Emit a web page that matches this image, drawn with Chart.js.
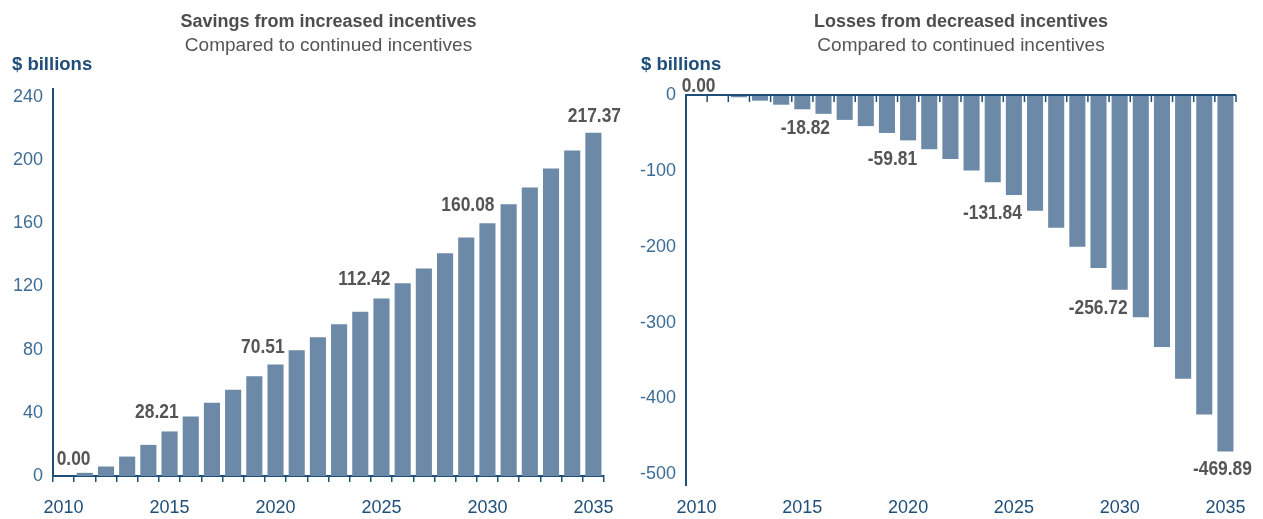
<!DOCTYPE html>
<html><head><meta charset="utf-8">
<script src="https://cdn.jsdelivr.net/npm/chart.js@4.4.1/dist/chart.umd.min.js"></script>
<style>
html,body{margin:0;padding:0;background:#fff;}
#wrap{display:flex;width:1263px;height:519px;}
canvas{display:block;}
</style></head><body>
<div id="wrap"><canvas id="c1" width="630" height="519"></canvas><canvas id="c2" width="633" height="519"></canvas></div>
<script>
// ---- data ----
const years = [2010,2011,2012,2013,2014,2015,2016,2017,2018,2019,2020,2021,2022,2023,2024,2025,2026,2027,2028,2029,2030,2031,2032,2033,2034,2035];
const savings = [0.00,2,6,12.3,19.7,28.21,37.6,46.3,54.6,63.2,70.51,79.6,87.8,96,104,112.42,122,131.4,141,151,160.08,172,182.6,194.6,206,217.37];
const losses = [0.00,-0.5,-3,-7.5,-12.8,-18.82,-24.8,-32.8,-41,-50,-59.81,-71.5,-84.5,-99.5,-115,-131.84,-152.5,-175,-200,-228,-256.72,-293,-332,-374,-421,-469.89];
const savingsTicks = [0,40,80,120,160,200,240];
const lossesTicks = [0,-100,-200,-300,-400,-500];
const xTickYears = [2010,2015,2020,2025,2030,2035];
const labeledYears = [2010,2015,2020,2025,2030,2035];
const leftTitle = 'Savings from increased incentives';
const rightTitle = 'Losses from decreased incentives';
const subTitle = 'Compared to continued incentives';
const unitText = '$ billions';

// ---- styles ----
const FONT = '"Liberation Sans", Arial, sans-serif';
const BAR = '#6c89a7';
const AXIS = '#1f4e79';
const YTICK = '#3d6d96';
const XTICK = '#1f4e79';
const LABEL_FONT = 'bold 20px ' + FONT;
const LABEL_CAP = 14.3;
const LABEL_SX = 0.87;   // condensed look for value labels
Chart.defaults.font.family = FONT;

function makeAnnot(cfg){
  return {
    id: 'annot_' + cfg.key,
    afterDraw(chart){
      const ctx = chart.ctx, ca = chart.chartArea;
      const xs = chart.scales.x, ys = chart.scales.y;
      ctx.save();
      const cx = (ca.left + ca.right) / 2;
      ctx.textBaseline = 'alphabetic';
      ctx.textAlign = 'center';
      ctx.fillStyle = '#4d4d4d';
      ctx.font = 'bold 18px ' + FONT;
      ctx.fillText(cfg.title, cx, 27);
      ctx.fillStyle = '#555555';
      ctx.font = '19px ' + FONT;
      ctx.fillText(subTitle, cx, 51);
      ctx.textAlign = 'left';
      ctx.fillStyle = AXIS;
      ctx.font = 'bold 18.5px ' + FONT;
      ctx.fillText(unitText, cfg.unitX, 70);

      if (cfg.zeroLine){
        const y0 = ys.getPixelForValue(0);
        const n = years.length;
        const half = (xs.getPixelForValue(1) - xs.getPixelForValue(0)) / 2;
        ctx.strokeStyle = AXIS;
        ctx.lineWidth = 1.5;
        ctx.beginPath();
        for (let i = 0; i <= n; i++){
          const x = i < n ? xs.getPixelForValue(i) - half : xs.getPixelForValue(n - 1) + half;
          ctx.moveTo(x, y0); ctx.lineTo(x, y0 + 7);
        }
        ctx.stroke();
        ctx.lineWidth = 2;
        ctx.beginPath();
        ctx.moveTo(ca.left, y0); ctx.lineTo(ca.right, y0);
        ctx.stroke();
      }

      const meta = chart.getDatasetMeta(0);
      const vals = chart.data.datasets[0].data;
      ctx.font = LABEL_FONT;
      ctx.fillStyle = '#555555';
      labeledYears.forEach((yr, k) => {
        const i = years.indexOf(yr);
        const bar = meta.data[i];
        const p = cfg.place[k];
        const v = vals[i];
        const txt = v.toFixed(2);
        let x;
        if (p.align === 'right'){ ctx.textAlign = 'right'; x = bar.x + bar.width / 2 + p.dx; }
        else { ctx.textAlign = 'center'; x = bar.x + p.dx; }
        let y;
        if (v > 0 || p.above) y = bar.y - p.gap;
        else y = bar.y + p.gap + LABEL_CAP;
        ctx.save();
        ctx.translate(x, y);
        ctx.scale(LABEL_SX, 1);
        ctx.fillText(txt, 0, 0);
        ctx.restore();
      });
      ctx.restore();
    }
  };
}

function fixedTicks(arr){ return function(scale){ scale.ticks = arr.map(v => ({value: v})); }; }

// Left chart
new Chart(document.getElementById('c1'), {
  type: 'bar',
  data: { labels: years.map(String), datasets: [{ data: savings, backgroundColor: BAR, borderWidth: 0, barPercentage: 0.76, categoryPercentage: 1.0 }] },
  options: {
    responsive: false, devicePixelRatio: 1, animation: false,
    layout: { padding: { left: 0, right: 26, top: 89, bottom: 0 } },
    plugins: { legend: { display: false }, tooltip: { enabled: false }, title: { display: false } },
    scales: {
      x: {
        type: 'category', offset: true,
        grid: { display: true, drawOnChartArea: false, drawTicks: true, tickLength: 6, color: AXIS, lineWidth: 1.5, offset: true },
        border: { display: true, color: AXIS, width: 2 },
        ticks: { autoSkip: false, maxRotation: 0, minRotation: 0, padding: 15, color: XTICK, font: { size: 18 },
          callback: (v, idx) => xTickYears.includes(years[idx]) ? String(years[idx]) : '' },
        afterFit: s => { s.height = 43; }
      },
      y: {
        min: 0, max: 245,
        grid: { display: false, drawTicks: false },
        border: { display: true, color: AXIS, width: 2 },
        ticks: { padding: 10, color: YTICK, font: { size: 18 }, callback: v => String(v) },
        afterBuildTicks: fixedTicks(savingsTicks),
        afterFit: s => { s.width = 53; }
      }
    }
  },
  plugins: [makeAnnot({ key: 'l', title: leftTitle, unitX: 12, zeroLine: false,
    place: [
      { align: 'center', dx: 10, gap: 11, above: true },
      { align: 'right', dx: 1, gap: 13 },
      { align: 'right', dx: 1, gap: 12 },
      { align: 'right', dx: 1, gap: 13 },
      { align: 'right', dx: -1, gap: 12 },
      { align: 'center', dx: 1, gap: 11 }
    ] })]
});

// Right chart
new Chart(document.getElementById('c2'), {
  type: 'bar',
  data: { labels: years.map(String), datasets: [{ data: losses, backgroundColor: BAR, borderWidth: 0, barPercentage: 0.76, categoryPercentage: 1.0 }] },
  options: {
    responsive: false, devicePixelRatio: 1, animation: false,
    layout: { padding: { left: 0, right: 27, top: 95, bottom: 0 } },
    plugins: { legend: { display: false }, tooltip: { enabled: false }, title: { display: false } },
    scales: {
      x: {
        type: 'category', offset: true,
        grid: { display: false, drawTicks: false },
        border: { display: false },
        ticks: { autoSkip: false, maxRotation: 0, minRotation: 0, padding: 12, color: XTICK, font: { size: 18 },
          callback: (v, idx) => xTickYears.includes(years[idx]) ? String(years[idx]) : '' },
        afterFit: s => { s.height = 34; }
      },
      y: {
        min: -514, max: 0,
        grid: { display: false, drawTicks: false },
        border: { display: true, color: AXIS, width: 2 },
        ticks: { padding: 10, color: YTICK, font: { size: 18 }, callback: v => String(v) },
        afterBuildTicks: fixedTicks(lossesTicks),
        afterFit: s => { s.width = 56; }
      }
    }
  },
  plugins: [makeAnnot({ key: 'r', title: rightTitle, unitX: 11, zeroLine: true,
    place: [
      { align: 'center', dx: 2, gap: 3, above: true },
      { align: 'center', dx: 3, gap: 10 },
      { align: 'right', dx: 1, gap: 10 },
      { align: 'right', dx: 0, gap: 10 },
      { align: 'right', dx: 0, gap: 10 },
      { align: 'center', dx: -3, gap: 9 }
    ] })]
});
</script>
</body></html>
